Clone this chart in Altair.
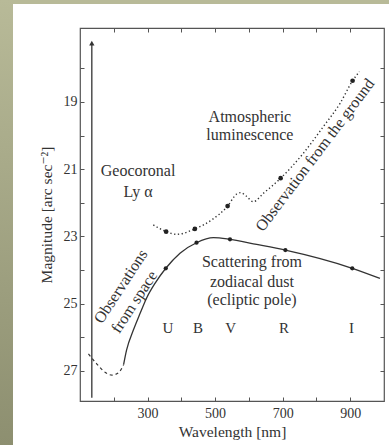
import altair as alt
import pandas as pd

# Sky brightness seen from space (zodiacal light); dashed short-ward of ~230 nm
space_dash_wl = [125, 150, 175, 195, 215, 229]
space_dash_mag = [26.5, 26.8, 27.05, 27.13, 27.05, 26.82]
space_wl = [229, 238, 258, 278, 297, 322, 354, 396, 445, 495, 544, 623, 708, 906, 988]
space_mag = [26.82, 26.38, 25.79, 25.29, 24.84, 24.4, 23.95, 23.5, 23.19, 23.04, 23.09, 23.24, 23.41, 23.95, 24.25]

# Sky brightness seen from the ground (airglow)
ground_wl = [317, 355, 386, 440, 490, 537, 564, 576, 592, 613, 643, 694, 761, 820, 870, 907, 927]
ground_mag = [22.66, 22.86, 22.94, 22.78, 22.51, 22.1, 21.74, 21.7, 21.8, 21.97, 21.72, 21.27, 20.53, 19.74, 19.04, 18.37, 18.1]

# Photometric band points
band_names = ["U", "B", "V", "R", "I"]
band_space_wl = [354, 445, 544, 708, 906]
band_space_mag = [23.95, 23.19, 23.09, 23.41, 23.95]
band_ground_wl = [355, 440, 537, 694, 907]
band_ground_mag = [22.86, 22.78, 22.1, 21.27, 18.37]
band_label_wl = [360, 449, 546, 704, 904]
band_label_mag = 25.73

# Geocoronal Lyman-alpha marker
lya_wl = 135
lya_mag_bottom = 27.8
lya_mag_top = 17.25

# Annotations
notes = pd.DataFrame({
    "text": ["Atmospheric", "luminescence", "Geocoronal", "Ly α",
             "Scattering from", "zodiacal dust", "(ecliptic pole)"],
    "wl": [603, 603, 272, 272, 609, 609, 609],
    "mag": [19.45, 19.98, 21.06, 21.68, 23.76, 24.35, 24.9],
})
rotated = pd.DataFrame({
    "text": ["Observations", "from space", "Observation from the ground"],
    "wl": [221, 261, 796],
    "mag": [24.49, 24.95, 20.58],
    "angle": [303, 303, 307],
})

FONT = "Times New Roman, Liberation Serif, DejaVu Serif, serif"
INK = "#333333"
W, H = 304, 373

xs = alt.Scale(domain=[100, 1000], nice=False, zero=False)
ys = alt.Scale(domain=[16.8, 27.9], reverse=True, nice=False, zero=False)
x_ticks = [200, 300, 400, 500, 600, 700, 800, 900]
y_ticks = [18, 19, 20, 21, 22, 23, 24, 25, 26, 27]

ax_bottom = alt.Axis(orient="bottom", values=x_ticks, domain=False, offset=-4, tickSize=4,
                     labelExpr="datum.value % 200 == 100 ? datum.label : ''",
                     labelPadding=5, title="Wavelength [nm]", titlePadding=4, grid=False)
ax_left = alt.Axis(orient="left", values=y_ticks, domain=False, offset=-4, tickSize=4,
                   labelExpr="datum.value % 2 == 1 ? datum.label : ''",
                   labelPadding=3, title="Magnitude [arc sec⁻²]", titlePadding=9, grid=False)
ax_top = alt.Axis(orient="top", values=x_ticks, domain=False, offset=-4, tickSize=4,
                  labels=False, title=None, grid=False)
ax_right = alt.Axis(orient="right", values=y_ticks, domain=False, offset=-4, tickSize=4,
                    labels=False, title=None, grid=False)

space_dash_df = pd.DataFrame({"wl": space_dash_wl, "mag": space_dash_mag})
space_df = pd.DataFrame({"wl": space_wl, "mag": space_mag})
ground_df = pd.DataFrame({"wl": ground_wl, "mag": ground_mag})
bs_df = pd.DataFrame({"wl": band_space_wl, "mag": band_space_mag})
bg_df = pd.DataFrame({"wl": band_ground_wl, "mag": band_ground_mag})
bl_df = pd.DataFrame({"band": band_names, "wl": band_label_wl, "mag": [band_label_mag] * 5})
lya_df = pd.DataFrame({"wl": [lya_wl], "lo": [lya_mag_bottom], "hi": [lya_mag_top]})

one = pd.DataFrame({"k": [0]})
olive = alt.LinearGradient(gradient="linear", x1=0, y1=0, x2=0, y2=1,
                           stops=[alt.GradientStop(color="#b8ba98", offset=0),
                                  alt.GradientStop(color="#8d8f70", offset=1)])
strip_left = alt.Chart(one).mark_rect(fill=olive).encode(
    x=alt.value(-80), x2=alt.value(-67), y=alt.value(-28), y2=alt.value(417))
strip_top = alt.Chart(one).mark_rect(fill="#b8ba98").encode(
    x=alt.value(-67), x2=alt.value(309), y=alt.value(-28), y2=alt.value(-24))

X = lambda ax: alt.X("wl:Q", scale=xs, axis=ax)
Y = lambda ax: alt.Y("mag:Q", scale=ys, axis=ax)

space_dash = alt.Chart(space_dash_df).mark_line(
    color=INK, strokeWidth=1.2, strokeDash=[3, 3], interpolate="monotone"
).encode(x=X(ax_bottom), y=Y(ax_left))

space = alt.Chart(space_df).mark_line(
    color=INK, strokeWidth=1.3, interpolate="monotone"
).encode(x=X(None), y=Y(None))

ground = alt.Chart(ground_df).mark_line(
    color=INK, strokeWidth=1.4, strokeDash=[1.3, 2.5], interpolate="monotone"
).encode(x=X(None), y=Y(None))

pts_space = alt.Chart(bs_df).mark_point(
    filled=True, color="#222222", size=18, opacity=1
).encode(x=X(None), y=Y(None))

pts_ground = alt.Chart(bg_df).mark_point(
    filled=True, color="#222222", size=22, opacity=1
).encode(x=X(ax_top), y=Y(ax_right))

lya_line = alt.Chart(lya_df).mark_rule(color=INK, strokeWidth=1.3).encode(
    x=X(None), y=alt.Y("lo:Q", scale=ys, axis=None), y2="hi:Q")
lya_head = alt.Chart(lya_df).mark_point(
    shape="triangle-up", filled=True, color=INK, size=28, opacity=1
).encode(x=X(None), y=alt.Y("hi:Q", scale=ys, axis=None))

note_text = alt.Chart(notes).mark_text(
    font=FONT, fontSize=16, color=INK, align="center", baseline="middle"
).encode(x=X(None), y=Y(None), text="text:N")

band_text = alt.Chart(bl_df).mark_text(
    font=FONT, fontSize=15, color=INK, align="center", baseline="middle"
).encode(x=X(None), y=Y(None), text="band:N")

rot_text = alt.Chart(rotated).mark_text(
    font=FONT, fontSize=16, color=INK, align="center", baseline="middle"
).encode(x=X(None), y=Y(None), text="text:N", angle=alt.Angle("angle:Q", scale=None))

chart = alt.layer(
    strip_left, strip_top, space_dash, space, ground, pts_space, pts_ground,
    lya_line, lya_head, note_text, band_text, rot_text
).resolve_axis(x="independent", y="independent").properties(
    width=W, height=H,
    padding={"left": 80, "top": 28, "right": 5, "bottom": 44},
    autosize=alt.AutoSizeParams(type="none"),
    background="white",
).configure_view(
    stroke="#555555", strokeWidth=1.2
).configure_axis(
    labelFont=FONT, labelFontSize=14, labelColor=INK,
    titleFont=FONT, titleFontSize=15.5, titleColor=INK, titleFontWeight="normal",
    tickColor="#555555", tickWidth=1,
)

chart.save("out.html", embed_options={"renderer": "svg", "actions": False})
